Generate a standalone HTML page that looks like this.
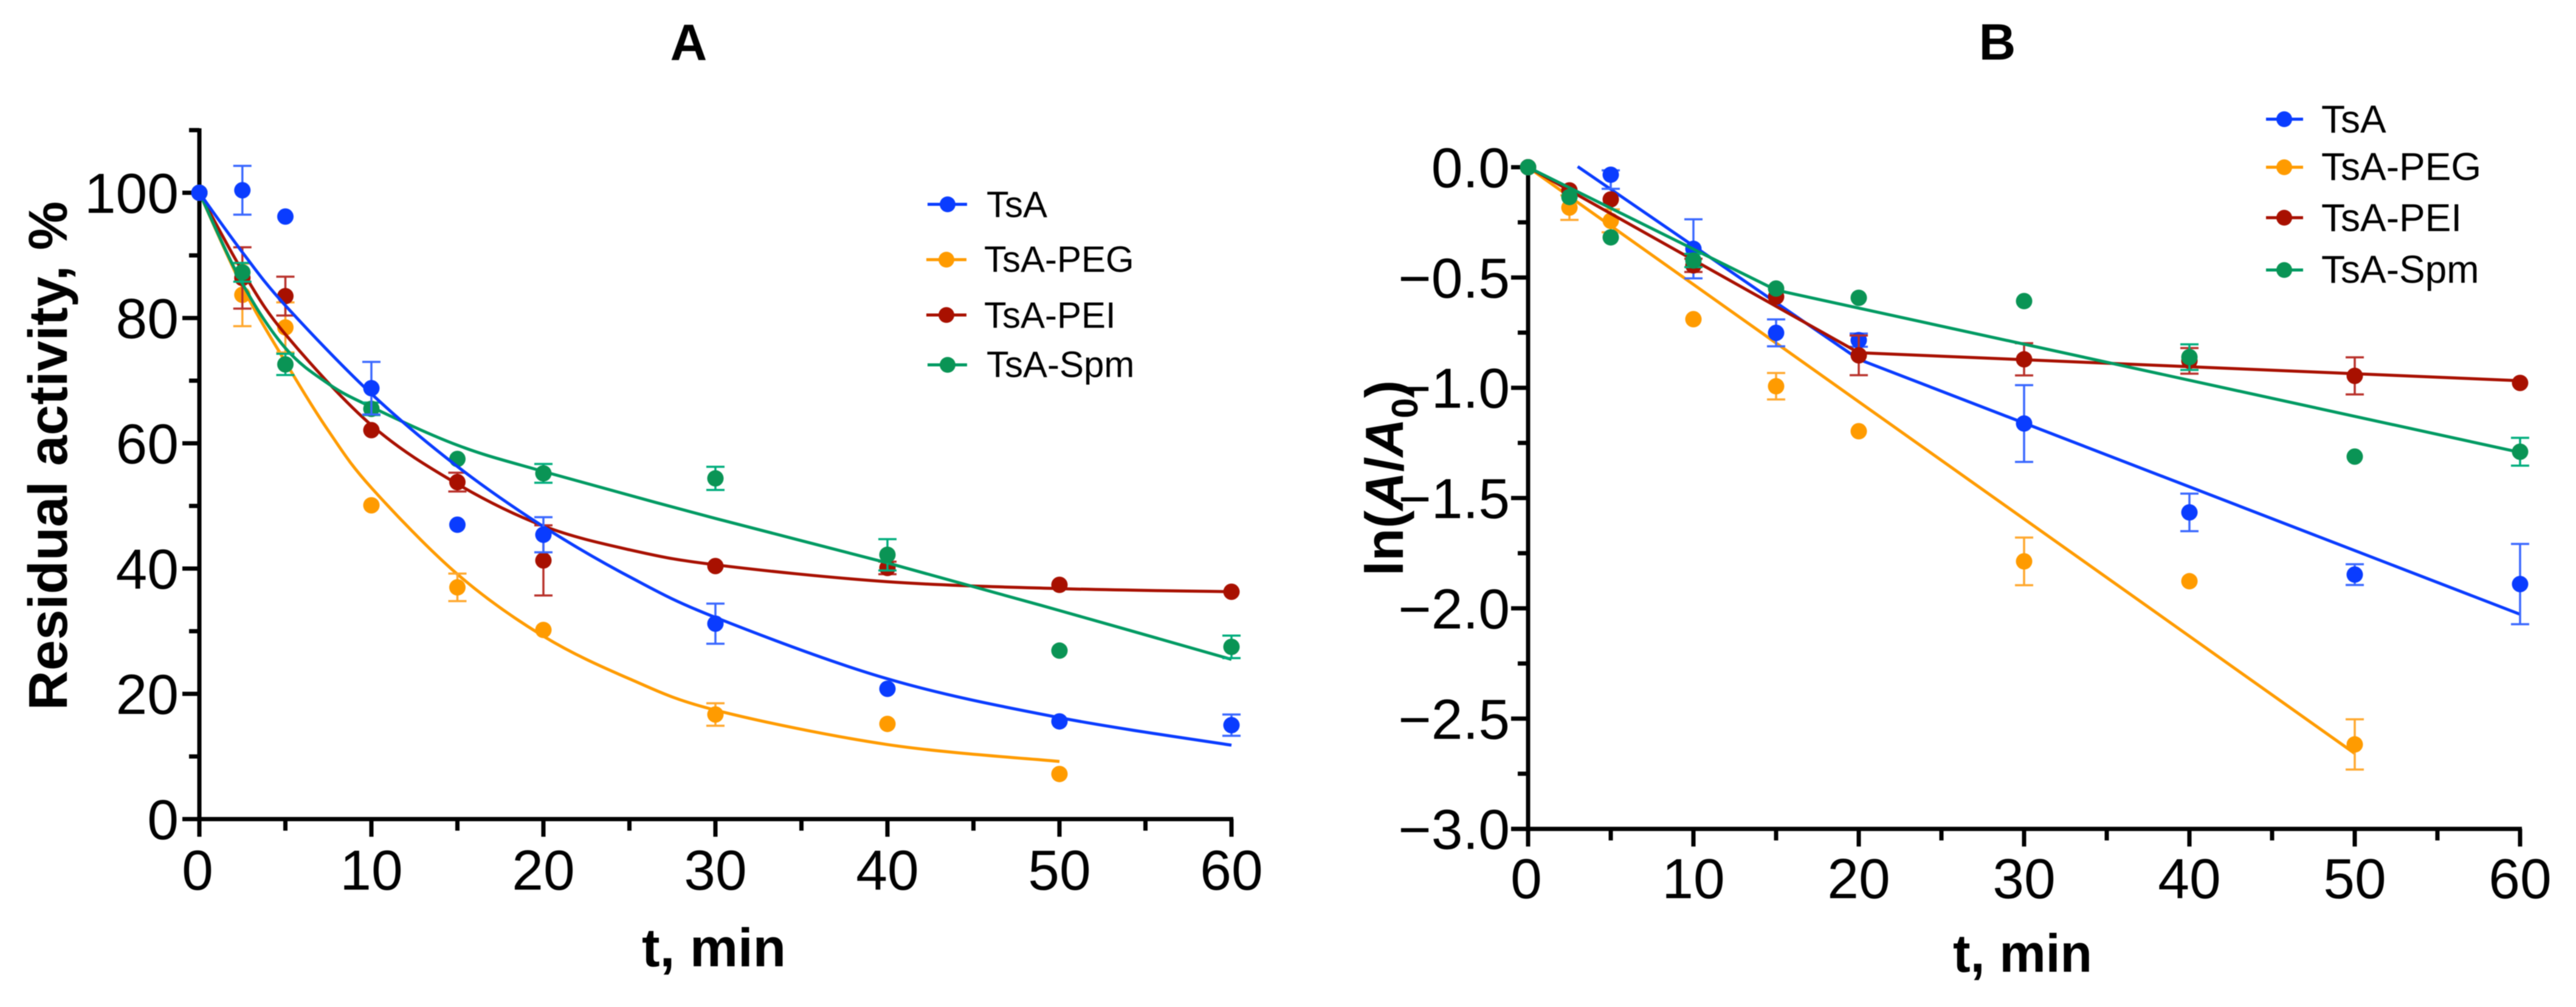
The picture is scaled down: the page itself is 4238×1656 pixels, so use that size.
<!DOCTYPE html>
<html lang="en">
<head>
<meta charset="utf-8">
<title>Residual activity and ln(A/A0) of TsA conjugates</title>
<style>
  html, body { margin: 0; padding: 0; background: #fff; }
  svg { display: block; filter: blur(0.7px); }
  text { font-family: "Liberation Sans", Arial, sans-serif; fill: #000; }
</style>
</head>
<body>
<svg id="figure" xmlns="http://www.w3.org/2000/svg" width="4238" height="1656" viewBox="0 0 4238 1656">
  <rect x="0" y="0" width="4238" height="1656" fill="#fff"/>

  <text x="1133" y="99" font-size="84" font-weight="700" text-anchor="middle">A</text>
  <text x="3286" y="98" font-size="84" font-weight="700" text-anchor="middle">B</text>

  <text transform="translate(110 1168) rotate(-90)" font-size="90" font-weight="700" textLength="837" lengthAdjust="spacingAndGlyphs">Residual activity, %</text>
  <text x="1056" y="1589" font-size="89" font-weight="700" textLength="237" lengthAdjust="spacingAndGlyphs">t, min</text>

  <text transform="translate(2308 947) rotate(-90)" font-size="88" font-weight="700">ln(<tspan font-style="italic">A</tspan>/<tspan font-style="italic">A</tspan><tspan font-size="60" dy="24">0</tspan><tspan dy="-24">)</tspan></text>
  <text x="3213" y="1598" font-size="88" font-weight="700" textLength="229" lengthAdjust="spacingAndGlyphs">t, min</text>

  <g id="panel-a"></g>
  <g id="panel-b"></g>

  <g>
    <g>
      <line x1="1526" x2="1591" y1="336" y2="336" stroke="#0a3cff" stroke-width="5"/><circle cx="1559" cy="336" r="13" fill="#0a3cff"/>
      <text x="1623" y="357" font-size="60">TsA</text>
    </g>
    <g>
      <line x1="1524" x2="1590" y1="427" y2="427" stroke="#ff9b00" stroke-width="5"/><circle cx="1557" cy="427" r="13" fill="#ff9b00"/>
      <text x="1619" y="447" font-size="60">TsA-PEG</text>
    </g>
    <g>
      <line x1="1524" x2="1590" y1="518" y2="518" stroke="#a81000" stroke-width="5"/><circle cx="1557" cy="518" r="13" fill="#a81000"/>
      <text x="1619" y="539" font-size="60">TsA-PEI</text>
    </g>
    <g>
      <line x1="1526" x2="1591" y1="600" y2="600" stroke="#009a62" stroke-width="5"/><circle cx="1559" cy="600" r="13" fill="#0a9455"/>
      <text x="1623" y="620" font-size="60">TsA-Spm</text>
    </g>
  </g>

  <g>
    <g>
      <line x1="3728" x2="3789" y1="196" y2="196" stroke="#0a3cff" stroke-width="5"/><circle cx="3758" cy="196" r="13" fill="#0a3cff"/>
      <text x="3819" y="218" font-size="64">TsA</text>
    </g>
    <g>
      <line x1="3728" x2="3789" y1="275" y2="275" stroke="#ff9b00" stroke-width="5"/><circle cx="3758" cy="275" r="13" fill="#ff9b00"/>
      <text x="3819" y="296" font-size="64">TsA-PEG</text>
    </g>
    <g>
      <line x1="3728" x2="3789" y1="358" y2="358" stroke="#a81000" stroke-width="5"/><circle cx="3758" cy="358" r="13" fill="#a81000"/>
      <text x="3819" y="380" font-size="64">TsA-PEI</text>
    </g>
    <g>
      <line x1="3728" x2="3789" y1="444" y2="444" stroke="#009a62" stroke-width="5"/><circle cx="3758" cy="444" r="13" fill="#0a9455"/>
      <text x="3819" y="465" font-size="64">TsA-Spm</text>
    </g>
  </g>
</svg>

<script>
/* ---------- Panel A data: residual activity, % ---------- */
const xTickValues = [0, 10, 20, 30, 40, 50, 60];
const xMinorValues = [5, 15, 25, 35, 45, 55];

const yTickValuesA = [0, 20, 40, 60, 80, 100];
const yTickLabelsA = ['0', '20', '40', '60', '80', '100'];
const yMinorValuesA = [10, 30, 50, 70, 90, 110];

const timesA = [0, 2.5, 5, 10, 15, 20, 30, 40, 50, 60];
const pegTimesA = [0, 2.5, 5, 10, 15, 20, 30, 40, 50];

const tsaValuesA = [100, 100.4, 96.2, 68.8, 47.0, 45.4, 31.2, 20.8, 15.6, 15.0];
const tsaErrorsA = [0, 3.9, 0, 4.2, 0, 2.8, 3.2, 0, 0, 1.7];
const pegValuesA = [100, 83.7, 78.5, 50.1, 37.0, 30.2, 16.7, 15.2, 7.2];
const pegErrorsA = [0, 5.0, 4.0, 0, 2.2, 0, 1.8, 0, 0];
const peiValuesA = [100, 86.4, 83.5, 62.1, 53.8, 41.3, 40.4, 40.1, 37.4, 36.3];
const peiErrorsA = [0, 4.9, 3.1, 0, 1.5, 5.6, 0, 1.0, 0, 0];
const spmValuesA = [100, 87.3, 72.6, 65.5, 57.5, 55.2, 54.4, 42.2, 26.9, 27.5];
const spmErrorsA = [0, 1.5, 1.7, 1.0, 0, 1.5, 1.85, 2.5, 0, 1.8];

const tsaFitTimesA = [0, 2.5, 5, 10, 15, 20, 25, 30, 40, 50, 60];
const tsaFitValuesA = [100, 90.5, 82, 67.9, 56.3, 46.7, 38.7, 32.2, 22.4, 16.2, 11.8];
const pegFitTimesA = [0, 2.5, 5, 7.5, 10, 15, 20, 25, 30, 40, 50];
const pegFitValuesA = [100, 85, 73, 62, 52.9, 39.1, 29.2, 22.4, 17.4, 11.9, 9.2];
const peiFitTimesA = [0, 2.5, 5, 10, 15, 20, 25, 30, 40, 50, 60];
const peiFitValuesA = [100, 87.5, 77.4, 62.9, 53.5, 46.8, 43, 40.6, 37.9, 36.8, 36.3];
const spmFitTimesA = [0, 2.5, 5, 7.5, 10, 15, 20, 30, 40, 50, 60];
const spmFitValuesA = [100, 85.5, 75.2, 69.5, 65.8, 59.7, 55.5, 48, 40.9, 33.3, 25.5];

/* ---------- Panel B data: ln(A/A0) ---------- */
const yTickValuesB = [0, -0.5, -1, -1.5, -2, -2.5, -3];
const yTickLabelsB = ['0.0', '\u22120.5', '\u22121.0', '\u22121.5', '\u22122.0', '\u22122.5', '\u22123.0'];
const yMinorValuesB = [-0.25, -0.75, -1.25, -1.75, -2.25, -2.75];

const timesB = [0, 2.5, 5, 10, 15, 20, 30, 40, 50, 60];
const tsaTimesB = [0, 5, 10, 15, 20, 30, 40, 50, 60];
const pegTimesB = [0, 2.5, 5, 10, 15, 20, 30, 40, 50];

const tsaValuesB = [0, -0.034, -0.37, -0.751, -0.784, -1.162, -1.565, -1.847, -1.89];
const tsaErrorsB = [0, 0.064, 0.134, 0.061, 0.03, 0.174, 0.085, 0.047, 0.182];
const tsaUpperErrorsB = [0, 0.02, 0.134, 0.061, 0.03, 0.174, 0.085, 0.047, 0.182];
const pegValuesB = [0, -0.183, -0.243, -0.689, -0.993, -1.197, -1.787, -1.877, -2.617];
const pegErrorsB = [0, 0.056, 0.052, 0, 0.06, 0, 0.108, 0, 0.114];
const peiValuesB = [0, -0.105, -0.146, -0.445, -0.587, -0.853, -0.871, -0.878, -0.946, -0.978];
const peiErrorsB = [0, 0, 0, 0.03, 0, 0.09, 0.073, 0.058, 0.084, 0];
const spmValuesB = [0, -0.135, -0.318, -0.423, -0.55, -0.592, -0.607, -0.861, -1.312, -1.29];
const spmErrorsB = [0, 0, 0, 0.03, 0, 0, 0, 0.058, 0, 0.063];

const tsaFitTimesB = [3, 20, 60];
const tsaFitValuesB = [0.003, -0.871, -2.027];
const pegFitTimesB = [0, 50];
const pegFitValuesB = [0, -2.658];
const peiFitTimesB = [0, 20, 60];
const peiFitValuesB = [0, -0.841, -0.968];
const spmFitTimesB = [0, 15, 60];
const spmFitValuesB = [0, -0.557, -1.293];

/* ---------- Rendering ---------- */
const SVG_NS = 'http://www.w3.org/2000/svg';
const COLORS = {
  tsa: { line: '#0a3cff', dot: '#0a3cff', err: '#3a68ff' },
  peg: { line: '#ff9b00', dot: '#ff9b00', err: '#ffa82e' },
  pei: { line: '#a81000', dot: '#a81000', err: '#b8302a' },
  spm: { line: '#009a62', dot: '#0a9455', err: '#00ad7c' }
};

function mk(tag, parent, attrs) {
  const el = document.createElementNS(SVG_NS, tag);
  for (const k in attrs) el.setAttribute(k, attrs[k]);
  parent.appendChild(el);
  return el;
}

function drawAxes(root, p) {
  const x = p.x, y = p.y;
  const left = x(0);
  const bottom = y(p.yMin);
  const yAxis = mk('line', root, { x1: left, x2: left, y1: y(p.yMax) - 3, y2: bottom + p.majorLen, stroke: '#000', 'stroke-width': 7 });
  
  
  const xAxis = mk('line', root, { x1: left - p.majorLen, x2: x(60) + 3, y1: bottom, y2: bottom, stroke: '#000', 'stroke-width': 7 });
  
  

  p.yTicks.forEach(function (v, i) {
    const t = mk('line', root, { x1: left - p.majorLen, x2: left, y1: y(v), y2: y(v), stroke: '#000', 'stroke-width': 7 });
    
    
    const l = mk('text', root, { x: p.yLabelX, y: y(v) + 33, 'font-size': 93, 'text-anchor': 'end' });
    l.textContent = p.yLabels[i];
    
    
  });
  p.yMinor.forEach(function (v) {
    const t = mk('line', root, { x1: left - p.minorLen, x2: left, y1: y(v), y2: y(v), stroke: '#000', 'stroke-width': 7 });
    
    
  });
  xTickValues.forEach(function (v) {
    const t = mk('line', root, { x1: x(v), x2: x(v), y1: bottom, y2: bottom + p.majorLen + 1, stroke: '#000', 'stroke-width': 7 });
    
    
    const l = mk('text', root, { x: x(v) - (v === 0 ? 3 : 0), y: p.xLabelY, 'font-size': 93, 'text-anchor': 'middle' });
    l.textContent = String(v);
    
    
  });
  xMinorValues.forEach(function (v) {
    const t = mk('line', root, { x1: x(v), x2: x(v), y1: bottom, y2: bottom + p.minorLen + 2, stroke: '#000', 'stroke-width': 7 });
    
    
  });
}

function fitPath(px, py, smooth) {
  let d = 'M' + px[0] + ' ' + py[0];
  for (let i = 1; i < px.length; i++) {
    if (!smooth) { d += 'L' + px[i] + ' ' + py[i]; continue; }
    const i0 = Math.max(i - 2, 0), i3 = Math.min(i + 1, px.length - 1);
    const c1x = px[i - 1] + (px[i] - px[i0]) / 6, c1y = py[i - 1] + (py[i] - py[i0]) / 6;
    const c2x = px[i] - (px[i3] - px[i - 1]) / 6, c2y = py[i] - (py[i3] - py[i - 1]) / 6;
    d += 'C' + c1x + ' ' + c1y + ' ' + c2x + ' ' + c2y + ' ' + px[i] + ' ' + py[i];
  }
  return d;
}

function drawSeries(root, p, s) {
  const c = COLORS[s.key];
  const g = mk('g', root, {});
  
  

  const fit = mk('path', g, {
    d: fitPath(s.fitT.map(p.x), s.fitV.map(p.y), p.smooth),
    fill: 'none', stroke: c.line, 'stroke-width': 5, 'stroke-linejoin': 'round'
  });
  
  

  s.t.forEach(function (t, i) {
    const e = s.err[i];
    const up = s.errUp ? s.errUp[i] : e;
    if (e > 0) {
      const bar = mk('path', g, {
        d: 'M' + p.x(t) + ' ' + p.y(s.v[i] + up) + 'V' + p.y(s.v[i] - e) +
           'M' + (p.x(t) - 15) + ' ' + p.y(s.v[i] + up) + 'h30' +
           'M' + (p.x(t) - 15) + ' ' + p.y(s.v[i] - e) + 'h30',
        fill: 'none', stroke: c.err, 'stroke-width': 3.5
      });
      
      
    }
  });
  s.t.forEach(function (t, i) {
    const dot = mk('circle', g, { cx: p.x(t), cy: p.y(s.v[i]), r: 13.5, fill: c.dot });
    
    
  });
}

const panelA = {
  x: function (t) { return 328 + 28.3 * t; },
  y: function (v) { return 1347 - 10.3 * v; },
  yMin: 0, yMax: 110, majorLen: 28, minorLen: 17,
  yTicks: yTickValuesA, yLabels: yTickLabelsA, yMinor: yMinorValuesA,
  yLabelX: 294, xLabelY: 1463, smooth: true
};
const panelB = {
  x: function (t) { return 2514 + 27.2 * t; },
  y: function (v) { return 275 - 362.7 * v; },
  yMin: -3, yMax: 0, majorLen: 28, minorLen: 17,
  yTicks: yTickValuesB, yLabels: yTickLabelsB, yMinor: yMinorValuesB,
  yLabelX: 2484, xLabelY: 1477, smooth: false
};

const seriesA = [
  { key: 'peg', t: pegTimesA, v: pegValuesA, err: pegErrorsA, fitT: pegFitTimesA, fitV: pegFitValuesA },
  { key: 'pei', t: timesA, v: peiValuesA, err: peiErrorsA, fitT: peiFitTimesA, fitV: peiFitValuesA },
  { key: 'spm', t: timesA, v: spmValuesA, err: spmErrorsA, fitT: spmFitTimesA, fitV: spmFitValuesA },
  { key: 'tsa', t: timesA, v: tsaValuesA, err: tsaErrorsA, fitT: tsaFitTimesA, fitV: tsaFitValuesA }
];
const seriesB = [
  { key: 'peg', t: pegTimesB, v: pegValuesB, err: pegErrorsB, fitT: pegFitTimesB, fitV: pegFitValuesB },
  { key: 'tsa', t: tsaTimesB, v: tsaValuesB, err: tsaErrorsB, errUp: tsaUpperErrorsB, fitT: tsaFitTimesB, fitV: tsaFitValuesB },
  { key: 'pei', t: timesB, v: peiValuesB, err: peiErrorsB, fitT: peiFitTimesB, fitV: peiFitValuesB },
  { key: 'spm', t: timesB, v: spmValuesB, err: spmErrorsB, fitT: spmFitTimesB, fitV: spmFitValuesB }
];

const rootA = document.getElementById('panel-a');
const rootB = document.getElementById('panel-b');
drawAxes(rootA, panelA);
drawAxes(rootB, panelB);
seriesA.forEach(function (s) { drawSeries(rootA, panelA, s); });
seriesB.forEach(function (s) { drawSeries(rootB, panelB, s); });
</script>
</body>
</html>
